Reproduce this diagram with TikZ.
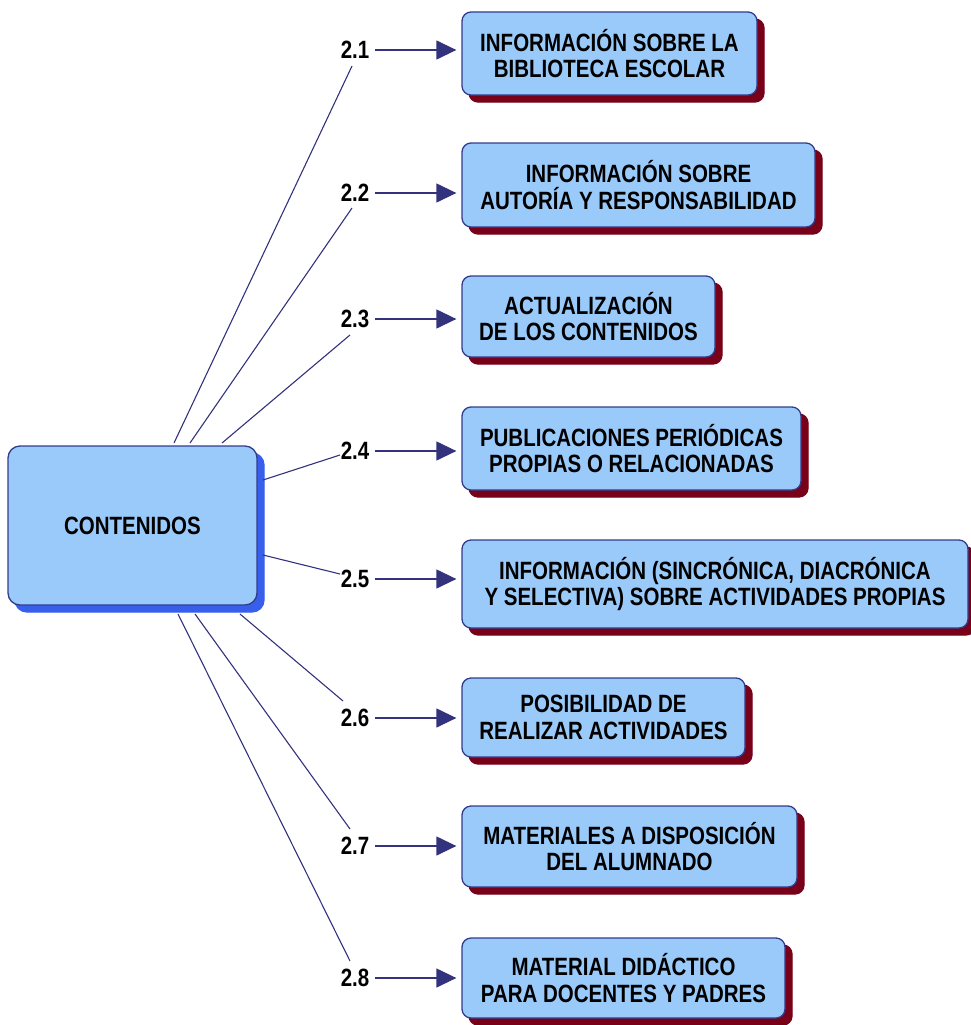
\documentclass[tikz,border=0pt]{standalone}
\usepackage{fontspec}
\setmainfont[FakeStretch=0.82]{Liberation Sans}
\usetikzlibrary{arrows.meta}
\definecolor{boxfill}{RGB}{153,202,250}
\definecolor{boxdraw}{RGB}{50,60,140}
\definecolor{redshadow}{RGB}{120,0,25}
\definecolor{blueshadow}{RGB}{55,95,235}
\definecolor{linecol}{RGB}{50,50,125}
\tikzset{
  itembox/.style={draw=boxdraw, line width=1.3pt, fill=boxfill, rounded corners=9pt, align=center,
    font=\bfseries\fontsize{25}{26.5}\selectfont, inner sep=0pt,
    preaction={fill=redshadow, draw=redshadow, transform canvas={shift={(7pt,-7pt)}}}},
  mainbox/.style={draw=boxdraw, line width=1.3pt, fill=boxfill, rounded corners=12pt, align=center,
    font=\bfseries\fontsize{25}{26.5}\selectfont, inner sep=0pt,
    preaction={fill=blueshadow, draw=blueshadow, transform canvas={shift={(7pt,-7pt)}}}},
  numlbl/.style={font=\bfseries\fontsize{25}{26}\selectfont, inner sep=1pt},
  conn/.style={draw=linecol, line width=1.1pt},
  arr/.style={draw=linecol, line width=1.3pt, -{Triangle[length=20pt,width=19pt,fill=linecol]}}
}
\begin{document}
\begin{tikzpicture}[x=1pt,y=-1pt]
\useasboundingbox (0,0) rectangle (971,1025);
% central box
\node[mainbox, minimum width=249pt, minimum height=159pt] (c) at (132.5,525.5) {CONTENIDOS};
% item boxes
\node[itembox, minimum width=295pt, minimum height=83pt] (b1) at (609.5,53.5) {INFORMACIÓN SOBRE LA\\BIBLIOTECA ESCOLAR};
\node[itembox, minimum width=353pt, minimum height=84pt] (b2) at (638.5,185) {INFORMACIÓN SOBRE\\AUTORÍA Y RESPONSABILIDAD};
\node[itembox, minimum width=253pt, minimum height=81pt] (b3) at (588.5,316.5) {ACTUALIZACIÓN\\DE LOS CONTENIDOS};
\node[itembox, minimum width=339pt, minimum height=83pt] (b4) at (631.5,448.5) {PUBLICACIONES PERIÓDICAS\\PROPIAS O RELACIONADAS};
\node[itembox, minimum width=506pt, minimum height=88pt] (b5) at (715,584) {INFORMACIÓN (SINCRÓNICA, DIACRÓNICA\\Y SELECTIVA) SOBRE ACTIVIDADES PROPIAS};
\node[itembox, minimum width=283pt, minimum height=79pt] (b6) at (603.5,717.5) {POSIBILIDAD DE\\REALIZAR ACTIVIDADES};
\node[itembox, minimum width=335pt, minimum height=81pt] (b7) at (629.5,846.5) {MATERIALES A DISPOSICIÓN\\DEL ALUMNADO};
\node[itembox, minimum width=323pt, minimum height=80pt] (b8) at (623.5,978) {MATERIAL DIDÁCTICO\\PARA DOCENTES Y PADRES};
% labels
\node[numlbl] (n1) at (355,50) {2.1};
\node[numlbl] (n2) at (355,193) {2.2};
\node[numlbl] (n3) at (355,319) {2.3};
\node[numlbl] (n4) at (355,451) {2.4};
\node[numlbl] (n5) at (355,579) {2.5};
\node[numlbl] (n6) at (355,718) {2.6};
\node[numlbl] (n7) at (355,846) {2.7};
\node[numlbl] (n8) at (355,978) {2.8};
% arrows
\foreach \i in {1,...,8} {
  \draw[arr] ([xshift=5pt]n\i.east) -- ([xshift=-5pt]n\i.east -| b\i.west);
}
% connectors from central box
\coordinate (s1) at (174,443);
\coordinate (s2) at (190,443);
\coordinate (s3) at (222,443);
\coordinate (s4) at (263,480);
\coordinate (s5) at (263,555);
\coordinate (s6) at (240,614);
\coordinate (s7) at (195,614);
\coordinate (s8) at (178,614);
\coordinate (e1) at (352,66);
\coordinate (e2) at (352,208);
\coordinate (e3) at (350,335);
\coordinate (e4) at (340,455);
\coordinate (e5) at (340,574);
\coordinate (e6) at (343,701);
\coordinate (e7) at (350,829);
\coordinate (e8) at (350,961);
\foreach \i in {1,...,8} { \draw[conn] (s\i) -- (e\i); }
\end{tikzpicture}
\end{document}
